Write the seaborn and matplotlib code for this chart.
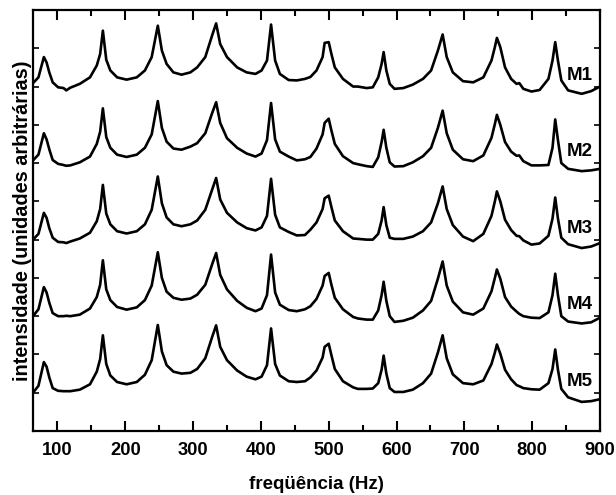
import numpy as np
import pandas as pd
import matplotlib
matplotlib.use("Agg")
import matplotlib.pyplot as plt
import seaborn as sns
from matplotlib.ticker import MultipleLocator

sns.set_theme(style="ticks")
plt.rcParams['font.family'] = ['Liberation Sans', 'DejaVu Sans']
plt.rcParams['font.weight'] = 'bold'
plt.rcParams['text.color'] = 'black'
plt.rcParams['axes.labelcolor'] = 'black'
plt.rcParams['xtick.color'] = 'black'
plt.rcParams['ytick.color'] = 'black'

freq = [64, 72, 80, 84, 88, 93, 101, 109, 113, 119, 133, 148, 158, 163, 167, 172, 178, 188,
        202, 217, 229, 239, 248, 254, 261, 271, 283, 296, 306, 318, 328, 334, 340, 350, 365,
        379, 392, 401, 409, 415, 421, 428, 441, 453, 465, 473, 482, 491, 494, 500, 504, 509,
        521, 536, 543, 556, 565, 573, 578, 581, 585, 590, 597, 610, 624, 639, 651, 661, 668,
        674, 683, 698, 713, 728, 740, 745, 748, 753, 760, 769, 777, 781, 787, 799, 811, 824,
        830, 834, 838, 843, 853, 873, 887, 900]

m1 = [0.09, 0.24, 0.77, 0.63, 0.37, 0.11, -0.02, -0.04, -0.10, -0.03, 0.07, 0.24, 0.55, 0.85,
      1.46, 0.70, 0.42, 0.24, 0.18, 0.24, 0.42, 0.77, 1.59, 0.94, 0.59, 0.37, 0.31, 0.37, 0.50,
      0.77, 1.33, 1.65, 1.11, 0.77, 0.50, 0.37, 0.33, 0.42, 0.68, 1.62, 0.68, 0.33, 0.17, 0.16,
      0.20, 0.25, 0.42, 0.77, 1.14, 1.16, 0.85, 0.50, 0.20, 0.00, 0.00, -0.04, -0.02, 0.24, 0.59,
      0.90, 0.42, 0.07, -0.06, -0.04, 0.05, 0.20, 0.42, 0.94, 1.36, 0.77, 0.37, 0.14, 0.11, 0.24,
      0.68, 1.03, 1.27, 1.03, 0.50, 0.20, 0.07, 0.09, -0.06, -0.13, -0.09, 0.20, 0.68, 1.16, 0.68,
      0.16, -0.10, -0.19, -0.12, 0.00]

m2 = [0.07, 0.22, 0.78, 0.62, 0.36, 0.08, -0.02, -0.05, -0.07, -0.06, 0.02, 0.17, 0.50, 0.82,
      1.43, 0.68, 0.40, 0.22, 0.16, 0.22, 0.40, 0.75, 1.62, 0.92, 0.56, 0.38, 0.35, 0.43, 0.52,
      0.78, 1.30, 1.59, 1.05, 0.65, 0.40, 0.25, 0.17, 0.25, 0.60, 1.57, 0.62, 0.30, 0.17, 0.07,
      0.10, 0.16, 0.38, 0.75, 1.05, 1.16, 0.85, 0.50, 0.18, 0.00, -0.03, -0.08, -0.10, 0.15, 0.55,
      0.87, 0.40, 0.02, -0.09, -0.08, 0.02, 0.18, 0.40, 0.92, 1.37, 0.78, 0.35, 0.10, 0.05, 0.20,
      0.66, 1.02, 1.26, 1.00, 0.55, 0.30, 0.19, 0.20, 0.05, -0.06, -0.06, -0.05, 0.40, 1.14, 0.60,
      0.00, -0.15, -0.21, -0.19, -0.15]

m3 = [0.00, 0.15, 0.70, 0.57, 0.30, 0.05, -0.06, -0.07, -0.09, -0.05, 0.03, 0.18, 0.48, 0.80,
      1.43, 0.68, 0.40, 0.22, 0.16, 0.22, 0.40, 0.78, 1.65, 0.95, 0.58, 0.40, 0.35, 0.40, 0.50,
      0.78, 1.30, 1.61, 1.05, 0.70, 0.45, 0.30, 0.24, 0.32, 0.62, 1.59, 0.65, 0.32, 0.20, 0.11,
      0.12, 0.26, 0.45, 0.80, 1.08, 1.15, 0.85, 0.50, 0.22, 0.03, 0.02, 0.00, 0.00, 0.15, 0.50,
      0.85, 0.38, 0.05, 0.02, 0.02, 0.08, 0.22, 0.45, 0.95, 1.39, 0.80, 0.38, 0.08, -0.04, 0.15,
      0.62, 1.00, 1.26, 1.00, 0.52, 0.25, 0.10, 0.09, -0.02, -0.13, -0.10, 0.10, 0.55, 1.10, 0.55,
      0.05, -0.12, -0.22, -0.18, -0.09]

m4 = [0.00, 0.18, 0.76, 0.62, 0.35, 0.08, 0.00, 0.00, 0.01, 0.00, 0.04, 0.20, 0.50, 0.82,
      1.46, 0.70, 0.42, 0.24, 0.17, 0.23, 0.42, 0.80, 1.67, 1.00, 0.64, 0.48, 0.43, 0.46, 0.56,
      0.82, 1.35, 1.65, 1.08, 0.70, 0.40, 0.22, 0.13, 0.20, 0.55, 1.61, 0.62, 0.30, 0.16, 0.13,
      0.18, 0.26, 0.45, 0.80, 1.05, 1.13, 0.82, 0.48, 0.18, -0.02, -0.06, -0.09, -0.09, 0.15, 0.55,
      0.90, 0.40, 0.00, -0.15, -0.12, -0.04, 0.15, 0.40, 0.98, 1.43, 0.80, 0.38, 0.10, 0.04, 0.20,
      0.65, 1.00, 1.22, 0.98, 0.50, 0.25, 0.12, 0.06, 0.00, -0.04, -0.05, 0.10, 0.55, 1.11, 0.55,
      0.00, -0.14, -0.19, -0.16, -0.04]

m5 = [0.00, 0.18, 0.80, 0.68, 0.40, 0.12, 0.05, 0.04, 0.04, 0.04, 0.08, 0.22, 0.55, 0.88,
      1.50, 0.75, 0.45, 0.28, 0.22, 0.28, 0.47, 0.85, 1.77, 1.08, 0.72, 0.55, 0.50, 0.52, 0.62,
      0.90, 1.45, 1.76, 1.20, 0.85, 0.58, 0.42, 0.35, 0.42, 0.72, 1.68, 0.75, 0.45, 0.30, 0.28,
      0.30, 0.40, 0.58, 0.92, 1.20, 1.28, 0.98, 0.62, 0.30, 0.14, 0.10, 0.10, 0.11, 0.25, 0.60,
      0.97, 0.50, 0.12, 0.02, 0.02, 0.08, 0.25, 0.50, 1.05, 1.50, 0.90, 0.48, 0.25, 0.22, 0.32,
      0.75, 1.05, 1.26, 1.02, 0.60, 0.35, 0.20, 0.17, 0.12, 0.09, 0.08, 0.25, 0.62, 1.13, 0.60,
      0.10, -0.12, -0.24, -0.22, -0.17]

names = ["M1", "M2", "M3", "M4", "M5"]
series = [m1, m2, m3, m4, m5]
offsets = [9, 7, 5, 3, 1]

frames = []
for n, s, o in zip(names, series, offsets):
    frames.append(pd.DataFrame({"freq": freq, "val": np.array(s) + o, "amostra": n}))
df = pd.concat(frames, ignore_index=True)

fig = plt.figure(figsize=(6.16, 4.95), dpi=100)
ax = fig.add_axes([0.0536, 0.1293, 0.9204, 0.8505])

sns.lineplot(data=df, x="freq", y="val", hue="amostra", units="amostra", estimator=None,
             sort=False, palette=["black"] * 5, linewidth=1.9, legend=False, ax=ax)
for ln in ax.get_lines():
    ln.set_solid_joinstyle("round")

for n, o in zip(names, offsets):
    ax.text(889, o + 0.3, n, ha="right", va="center", fontsize=13.5, fontweight="bold",
            color="black")

ax.set_xlim(64, 900)
ax.set_ylim(0, 11)
ax.xaxis.set_major_locator(MultipleLocator(100))
ax.xaxis.set_minor_locator(MultipleLocator(50))
ax.yaxis.set_major_locator(MultipleLocator(1))
ax.set_yticklabels([])
ax.tick_params(axis="x", which="major", direction="in", length=7, width=1.5,
               top=True, bottom=True, labelsize=13.2, pad=8)
ax.tick_params(axis="x", which="minor", direction="in", length=4, width=1.5,
               top=True, bottom=True)
ax.tick_params(axis="y", which="major", direction="in", length=4, width=1.2,
               left=True, right=True, pad=0)
for lab in ax.get_xticklabels():
    lab.set_fontweight("bold")
for sp in ax.spines.values():
    sp.set_linewidth(1.6)
    sp.set_color("black")

ax.set_xlabel("freqüência (Hz)", fontsize=13.5, fontweight="bold", labelpad=12)
ax.set_ylabel("intensidade (unidades arbitrárias)", fontsize=14.3, fontweight="bold", labelpad=1)

fig.savefig("out.png", dpi=100)
